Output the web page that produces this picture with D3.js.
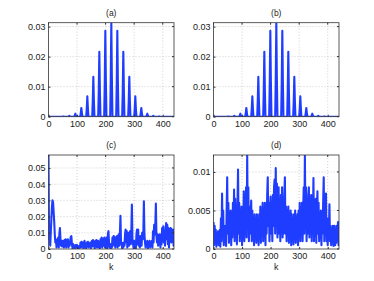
<!DOCTYPE html>
<html>
<head>
<meta charset="utf-8">
<script src="https://cdn.jsdelivr.net/npm/d3@7"></script>
<style>
  body { margin: 0; background: #fff; }
  svg text { font-family: "Liberation Sans", Arial, sans-serif; fill: #222; }
</style>
</head>
<body>
<svg id="fig" width="374" height="281"></svg>
<script>
// ---- data ----
var xTicks = [0, 100, 200, 300, 400];

// (a) / (b): comb of peaks every 21 samples round k=220
var combK = [0,
  48,50,52,54,56, 69,71,73,75,77, 90,92,94,96,98, 111,113,115,117,119,
  132,134,136,138,140, 153,155,157,159,161, 174,176,178,180,182, 195,197,199,201,203,
  216,218,220,222,224, 237,239,241,243,245, 258,260,262,264,266, 279,281,283,285,287,
  300,302,304,306,308, 321,323,325,327,329, 342,344,346,348,350, 363,365,367,369,371,
  384,386,388,390,392, 440];
var combA = [0,
  0,0.00004,0.0001,0.00004,0, 0,0.00012,0.0003,0.00012,0, 0,0.0004,0.001,0.0004,0,
  0,0.0012,0.0029,0.0012,0, 0,0.0027,0.0068,0.0027,0, 0,0.0053,0.0133,0.0053,0,
  0,0.0086,0.0216,0.0086,0, 0,0.0114,0.0286,0.0114,0, 0,0.0125,0.0313,0.0125,0,
  0,0.0114,0.0286,0.0114,0, 0,0.0086,0.0216,0.0086,0, 0,0.0053,0.0133,0.0053,0,
  0,0.0027,0.0068,0.0027,0, 0,0.0012,0.0029,0.0012,0, 0,0.0004,0.001,0.0004,0,
  0,0.00012,0.0003,0.00012,0, 0,0.00004,0.0001,0.00004,0, 0];
// (b) reads the same as (a)
var combB = combA.slice();

// (c) and (d): one value every 2 samples, k = 0,2,...,440
var noiseC = [
  0.058,0.006,0.009,0.002,0.010,0.018,0.026,0.030,0.029,0.023,
  0.017,0.009,0.004,0.006,0.001,0.0055,0.003,0.007,0.001,0.009,
  0.013,0.006,0.002,0.005,0.0015,0.005,0.004,0.001,0.0055,0.002,
  0.006,0.001,0.0055,0.003,0.006,0.001,0.004,0.002,0.005,0.0075,
  0.008,0.003,0.0005,0.003,0.001,0.002,0.0003,0.0025,0.001,0.0015,
  0.0025,0.0003,0.0015,0.0005,0.002,0.0008,0.004,0.001,0.0045,0.002,
  0.004,0.0005,0.0035,0.005,0.001,0.003,0.0005,0.004,0.002,0.0045,
  0.001,0.0035,0.002,0.004,0.0005,0.003,0.005,0.0015,0.0055,0.002,
  0.004,0.0005,0.005,0.002,0.0055,0.001,0.004,0.005,0.001,0.003,
  0.0005,0.006,0.002,0.007,0.001,0.005,0.0065,0.002,0.007,0.001,
  0.006,0.003,0.007,0.0005,0.009,0.011,0.004,0.001,0.003,0.0003,
  0.0025,0.001,0.007,0.003,0.008,0.002,0.0075,0.001,0.006,0.003,
  0.008,0.001,0.006,0.009,0.002,0.009,0.0205,0.003,0.004,0.0005,
  0.0035,0.001,0.004,0.002,0.009,0.012,0.004,0.011,0.001,0.008,
  0.010,0.002,0.009,0.011,0.003,0.010,0.0275,0.006,0.003,0.0005,
  0.005,0.002,0.004,0.0005,0.009,0.012,0.003,0.012,0.002,0.006,
  0.001,0.008,0.005,0.002,0.010,0.006,0.008,0.0295,0.009,0.004,
  0.001,0.0045,0.002,0.005,0.0005,0.004,0.003,0.005,0.001,0.004,
  0.002,0.005,0.001,0.011,0.004,0.015,0.009,0.014,0.028,0.008,
  0.004,0.009,0.002,0.0085,0.005,0.009,0.001,0.008,0.003,0.013,
  0.009,0.014,0.004,0.010,0.002,0.012,0.016,0.006,0.015,0.003,
  0.013,0.001,0.012,0.009,0.013,0.004,0.012,0.007,0.012,0.002,
  0.009];
var noiseD = [
  0.0035,0.0005,0.003,0.001,0.0025,0.0003,0.002,0.0008,0.0023,0.0005,
  0.0015,0.0025,0.0003,0.004,0.001,0.0072,0.002,0.005,0.0005,0.003,
  0.0012,0.003,0.0004,0.005,0.0093,0.002,0.006,0.0008,0.0045,0.002,
  0.005,0.0005,0.004,0.0015,0.006,0.002,0.0077,0.001,0.0065,0.003,
  0.005,0.0006,0.006,0.0103,0.002,0.006,0.001,0.005,0.0025,0.0055,
  0.0005,0.004,0.002,0.0075,0.001,0.005,0.003,0.008,0.0015,0.0122,
  0.003,0.008,0.001,0.0055,0.002,0.0045,0.0063,0.001,0.005,0.002,
  0.004,0.0005,0.0045,0.0015,0.004,0.0008,0.0045,0.002,0.0035,0.0005,
  0.0045,0.0015,0.0055,0.0008,0.005,0.002,0.006,0.001,0.005,0.0025,
  0.006,0.0005,0.0055,0.002,0.007,0.0093,0.003,0.006,0.001,0.005,
  0.0068,0.002,0.006,0.001,0.007,0.003,0.008,0.009,0.002,0.0105,
  0.004,0.0085,0.0015,0.007,0.008,0.002,0.006,0.001,0.007,0.003,
  0.008,0.0015,0.006,0.002,0.007,0.0093,0.002,0.0055,0.001,0.005,
  0.002,0.0055,0.0008,0.0045,0.002,0.005,0.0005,0.0045,0.0015,0.004,
  0.0006,0.0045,0.002,0.005,0.0008,0.004,0.002,0.0045,0.0005,0.005,
  0.002,0.006,0.001,0.005,0.0025,0.006,0.001,0.005,0.008,0.002,
  0.0122,0.003,0.008,0.001,0.006,0.002,0.007,0.008,0.0015,0.006,
  0.0025,0.007,0.001,0.006,0.003,0.0092,0.001,0.006,0.002,0.0065,
  0.0008,0.005,0.0075,0.002,0.006,0.001,0.004,0.002,0.005,0.0005,
  0.004,0.002,0.006,0.0093,0.001,0.005,0.002,0.0072,0.001,0.004,
  0.0005,0.0035,0.002,0.0058,0.001,0.003,0.0005,0.0025,0.001,0.003,
  0.0004,0.002,0.003,0.0005,0.0025,0.0008,0.003,0.001,0.0035,0.0005,
  0.0035];
var noiseK = d3.range(noiseC.length).map(function(i){ return i * 2; });

var panels = [
  {title: "(a)", k: combK, v: combA, ymax: 0.0313, yTicks: [0, 0.01, 0.02, 0.03], xlab: false},
  {title: "(b)", k: combK, v: combB, ymax: 0.0313, yTicks: [0, 0.01, 0.02, 0.03], xlab: false},
  {title: "(c)", k: noiseK, v: noiseC, ymax: 0.058, yTicks: [0, 0.01, 0.02, 0.03, 0.04, 0.05], xlab: true},
  {title: "(d)", k: noiseK, v: noiseD, ymax: 0.0122, yTicks: [0, 0.005, 0.01], xlab: true}
];

// ---- layout ----
var lefts = [48.5, 213.5], tops = [22.7, 155];
var pw = 125.5, ph = 94;
var svg = d3.select("#fig");

panels.forEach(function(p, i) {
  var x0 = lefts[i % 2], y0 = tops[Math.floor(i / 2)];
  var g = svg.append("g").attr("transform", "translate(" + x0 + "," + y0 + ")");

  var x = d3.scaleLinear().domain([0, 439.5]).range([0, pw]);
  var y = d3.scaleLinear().domain([0, p.ymax]).range([ph, 0]);

  // dotted grid
  g.selectAll("line.gx").data(xTicks.slice(1)).enter().append("line")
    .attr("x1", function(d){ return x(d); }).attr("x2", function(d){ return x(d); })
    .attr("y1", 0).attr("y2", ph)
    .style("stroke", "#bbb").style("stroke-width", 0.7).style("stroke-dasharray", "1,2");
  g.selectAll("line.gy").data(p.yTicks.slice(1)).enter().append("line")
    .attr("y1", function(d){ return y(d); }).attr("y2", function(d){ return y(d); })
    .attr("x1", 0).attr("x2", pw)
    .style("stroke", "#bbb").style("stroke-width", 0.7).style("stroke-dasharray", "1,2");

  // the trace
  var clipId = "clip" + i;
  g.append("clipPath").attr("id", clipId).append("rect")
    .attr("x", 0).attr("y", 0).attr("width", pw).attr("height", ph);
  var line = d3.line()
    .x(function(d, j){ return x(p.k[j]); })
    .y(function(d){ return y(d); });
  g.append("path").datum(p.v)
    .attr("clip-path", "url(#" + clipId + ")")
    .attr("d", line)
    .style("fill", "none").style("stroke", "#1f3dff")
    .style("stroke-width", 2.1).style("stroke-linejoin", "round");

  // box
  g.append("rect").attr("width", pw).attr("height", ph)
    .style("fill", "none").style("stroke", "#333").style("stroke-width", 0.8);

  // axes, ticks inward
  var xa = g.append("g").attr("transform", "translate(0," + ph + ")")
    .call(d3.axisBottom(x).tickValues(xTicks).tickSize(-2).tickPadding(4).tickFormat(d3.format("d")));
  var ya = g.append("g")
    .call(d3.axisLeft(y).tickValues(p.yTicks).tickSize(-2).tickPadding(3).tickFormat(function(d){ return String(+d.toFixed(4)); }));
  [xa, ya].forEach(function(a) {
    a.select(".domain").remove();
    a.selectAll(".tick line").style("stroke", "#333");
    a.selectAll("text").style("font-size", "9px").style("fill", "#222")
      .style("font-family", "'Liberation Sans', Arial, sans-serif");
  });
  // top / right tick marks
  g.selectAll("line.tt").data(xTicks).enter().append("line")
    .attr("x1", function(d){ return x(d); }).attr("x2", function(d){ return x(d); })
    .attr("y1", 0).attr("y2", 2).style("stroke", "#333");
  g.selectAll("line.tr").data(p.yTicks).enter().append("line")
    .attr("y1", function(d){ return y(d); }).attr("y2", function(d){ return y(d); })
    .attr("x1", pw).attr("x2", pw - 2).style("stroke", "#333");

  g.append("text").attr("x", pw / 2).attr("y", -7)
    .attr("text-anchor", "middle").style("font-size", "8.5px").text(p.title);
  if (p.xlab) {
    g.append("text").attr("x", pw / 2).attr("y", ph + 21)
      .attr("text-anchor", "middle").style("font-size", "9px").text("k");
  }
});
</script>
</body>
</html>
